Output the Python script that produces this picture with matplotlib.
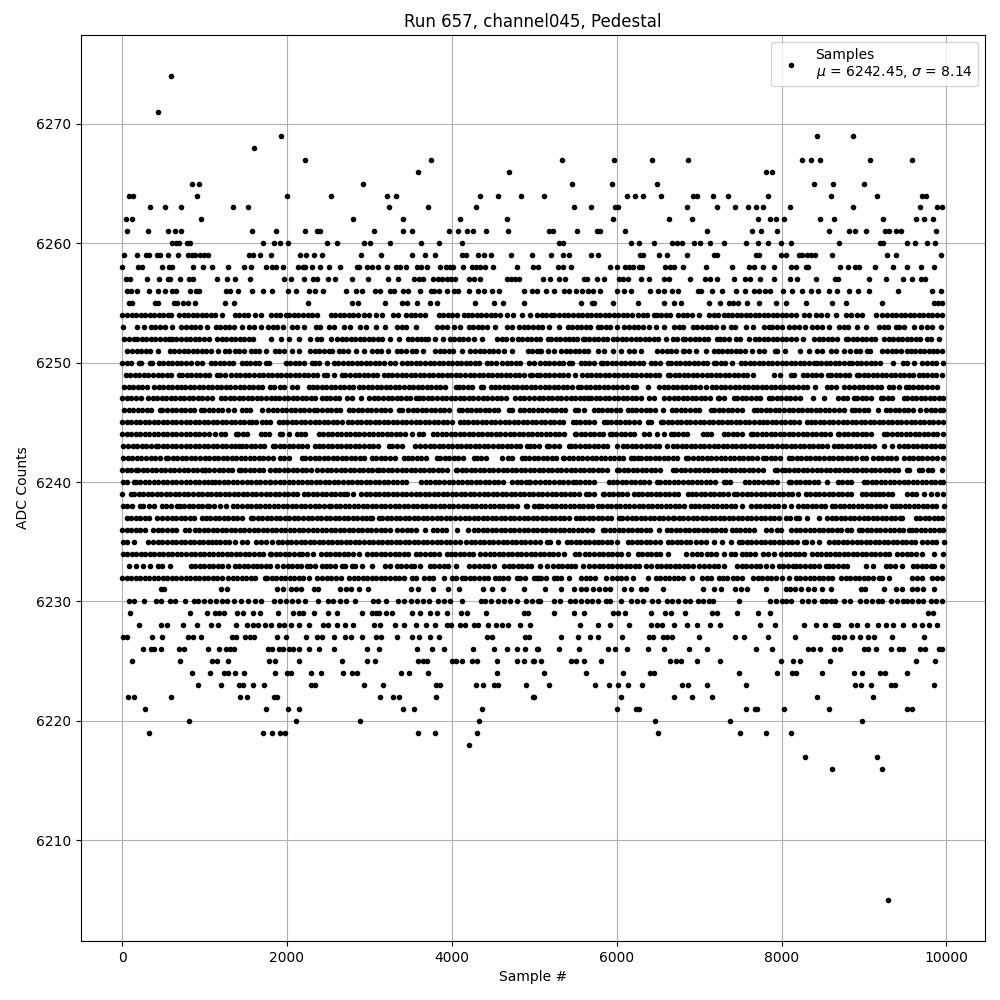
import matplotlib
matplotlib.use("Agg")
import matplotlib.pyplot as plt

# sample numbers, one list per ADC level
s6274 = [594]
s6271 = [436]
s6269 = [1927, 8436, 8872]
s6268 = [1600]
s6267 = [2218, 3745, 5333, 5964, 6424, 6860, 8254, 8363, 8472, 9078, 9588]
s6266 = [3588, 4690, 7806, 7879]
s6265 = [848, 933, 2921, 5455, 5939, 6485, 8388, 8630, 9006]
s6264 = [85, 133, 909, 2000, 2533, 3212, 3321, 4339, 4557, 4836, 5115, 6121, 6218, 6315, 6533, 6921, 6970, 7164, 7345, 7842, 8606, 9163, 9709, 9757]
s6263 = [339, 521, 715, 1345, 1527, 3236, 3709, 4290, 5479, 5685, 5976, 6012, 6848, 7212, 7430, 7588, 7685, 7770, 8097, 8872, 9684, 9891, 9951]
s6262 = [48, 121, 957, 2800, 3406, 4097, 4666, 5952, 6630, 6909, 7709, 7866, 7927, 8024, 8472, 8642, 9236, 9636, 9729, 9842]
s6261 = [65, 315, 558, 642, 715, 1576, 1866, 2218, 2360, 2396, 3054, 3406, 3515, 3963, 4072, 4181, 4254, 4412, 4678, 5184, 5232, 5515, 5758, 5794, 6097, 7091, 7636, 7745, 7951, 8570, 8824, 8897, 9030, 9260, 9309, 9386, 9446, 9878]
s6260 = [606, 654, 691, 788, 824, 1709, 1842, 1915, 2012, 2485, 2606, 2933, 3006, 3248, 3624, 3842, 4121, 5305, 5354, 6170, 6267, 6448, 6667, 6727, 6788, 6933, 7006, 7127, 7297, 7564, 7709, 7830, 7988, 8109, 8703, 9200, 9236, 9527, 9624, 9769, 9866]
s6259 = [24, 186, 291, 327, 428, 461, 558, 679, 800, 848, 885, 945, 994, 1042, 1539, 1588, 1673, 1806, 2157, 2230, 2327, 2424, 2897, 3139, 3515, 3672, 3794, 4129, 4177, 4315, 4387, 4472, 4715, 4970, 5200, 5345, 5418, 5685, 5770, 6279, 6315, 6509, 6606, 6848, 7176, 7212, 7685, 7721, 7988, 8060, 8206, 8254, 8315, 8363, 8412, 8618, 9285, 9394, 9939]
s6258 = [0, 194, 242, 485, 570, 606, 861, 982, 1091, 1285, 1479, 1564, 1745, 1818, 1866, 1951, 2133, 2194, 2218, 2303, 2400, 2509, 2642, 2848, 2873, 2970, 3030, 3103, 3212, 3321, 3370, 3442, 3576, 3624, 3697, 3854, 3927, 3976, 4012, 4133, 4242, 4290, 4339, 4400, 4497, 4788, 4982, 5042, 5285, 5345, 5442, 5915, 6000, 6097, 6145, 6194, 6267, 6303, 6582, 6642, 6691, 6800, 7079, 7394, 7600, 7661, 7770, 7903, 8121, 8170, 8291, 8327, 8715, 8812, 8897, 8945, 9139, 9357, 9527, 9697, 9854]
s6257 = [48, 97, 303, 448, 558, 582, 703, 812, 861, 1151, 1272, 1370, 1551, 1964, 2048, 2206, 2315, 2364, 2497, 2582, 2788, 2982, 3224, 3345, 3539, 3600, 3648, 3769, 3830, 3878, 3939, 3988, 4044, 4206, 4266, 4339, 4666, 4715, 4763, 4812, 5103, 5188, 5297, 5370, 5600, 5636, 5758, 5842, 6024, 6073, 6133, 6291, 6388, 6570, 6630, 6885, 7067, 7127, 7212, 7418, 7552, 7612, 7733, 7903, 8097, 8182, 8424, 8654, 8691, 9066, 9272, 9479, 9588, 9697, 9745]
s6256 = [65, 109, 182, 327, 436, 521, 606, 654, 824, 897, 933, 1260, 1309, 1406, 1576, 1709, 1818, 2012, 2109, 2267, 2339, 2436, 2715, 2836, 2909, 3066, 3127, 3248, 3297, 3406, 3467, 3612, 3745, 3782, 3842, 3939, 4024, 4072, 4206, 4315, 4387, 4484, 4569, 4872, 4969, 5030, 5139, 5236, 5358, 5418, 5503, 5576, 5648, 5709, 5794, 6000, 6085, 6170, 6400, 6497, 6570, 6667, 6739, 6982, 7018, 7152, 7273, 7442, 7552, 7661, 7721, 7794, 7866, 8012, 8133, 8254, 8363, 8448, 8570, 8679, 8824, 8933, 9067, 9418, 9830, 9939]
s6255 = [85, 121, 400, 436, 630, 667, 739, 800, 885, 1248, 1357, 2254, 2788, 2861, 3188, 3394, 3455, 3576, 3733, 3818, 4278, 4508, 4618, 4872, 5564, 5697, 5721, 5952, 6254, 6570, 6691, 6776, 7115, 7248, 7357, 7406, 7467, 7576, 7721, 7939, 8060, 8303, 8618, 8788, 9224, 9854, 9903, 9951]

s6254 = [4, 60, 115, 170, 225, 280, 335, 390, 445, 500, 555, 590, 690, 745, 800, 855, 910, 965, 1020, 1075, 1130, 1215, 1365, 1420, 1475, 1530, 1610, 1680, 1810, 1865, 1920, 1990, 2030, 2085, 2140, 2195, 2250, 2305, 2370, 2530, 2585, 2640, 2695, 2750, 2805, 2860, 2930, 3000, 3075, 3155, 3290, 3345, 3440, 3500, 3555, 3610, 3680, 3840, 3895, 3950, 4005, 4060, 4145, 4195, 4250, 4305, 4360, 4415, 4470, 4525, 4580, 4670, 4740, 4850, 4950, 5035, 5090, 5145, 5200, 5245, 5305, 5360, 5415, 5470, 5525, 5580, 5635, 5690, 5745, 5800, 5855, 5910, 5965, 6020, 6075, 6130, 6185, 6255, 6315, 6370, 6455, 6485, 6540, 6595, 6650, 6740, 6800, 6855, 6910, 7000, 7125, 7180, 7235, 7305, 7345, 7400, 7455, 7510, 7565, 7620, 7675, 7730, 7785, 7840, 7895, 7950, 8005, 8060, 8115, 8175, 8275, 8330, 8415, 8475, 8555, 8665, 8785, 8840, 8920, 8980, 9150, 9225, 9280, 9335, 9390, 9445, 9500, 9555, 9610, 9665, 9720, 9775, 9830, 9885, 9950]
s6253 = [16, 185, 260, 350, 405, 460, 515, 600, 720, 775, 830, 885, 940, 1035, 1135, 1190, 1245, 1300, 1355, 1460, 1540, 1595, 1680, 1770, 1825, 1875, 1950, 2065, 2120, 2205, 2350, 2405, 2510, 2575, 2690, 2760, 2885, 2965, 3075, 3190, 3340, 3395, 3450, 3560, 3820, 3880, 3940, 4025, 4105, 4205, 4260, 4315, 4370, 4425, 4530, 4670, 4730, 4810, 4870, 4930, 4985, 5040, 5095, 5185, 5300, 5405, 5460, 5515, 5570, 5625, 5680, 5770, 5810, 5865, 5920, 6000, 6095, 6150, 6205, 6260, 6315, 6395, 6475, 6580, 6700, 6755, 6810, 6920, 6980, 7035, 7090, 7145, 7200, 7285, 7385, 7440, 7570, 7650, 7790, 7850, 7890, 7945, 8000, 8090, 8150, 8215, 8280, 8375, 8430, 8485, 8580, 8700, 8755, 8810, 8920, 9030, 9185, 9240, 9295, 9385, 9430, 9485, 9610, 9690, 9770, 9825, 9930]
s6252 = [25, 80, 145, 185, 240, 295, 350, 405, 460, 515, 570, 610, 660, 715, 770, 825, 880, 935, 990, 1055, 1155, 1210, 1265, 1320, 1375, 1430, 1485, 1540, 1590, 1810, 1930, 2025, 2145, 2285, 2360, 2415, 2530, 2610, 2665, 2720, 2775, 2830, 2885, 2940, 2995, 3050, 3105, 3155, 3255, 3355, 3465, 3520, 3575, 3630, 3680, 3710, 3800, 3890, 3975, 4030, 4085, 4140, 4195, 4265, 4365, 4550, 4605, 4660, 4730, 4800, 4855, 4910, 4965, 5020, 5070, 5165, 5205, 5260, 5315, 5370, 5425, 5465, 5520, 5590, 5610, 5665, 5720, 5775, 5830, 5885, 5960, 6010, 6065, 6115, 6175, 6230, 6285, 6340, 6395, 6450, 6505, 6600, 6680, 6735, 6800, 6835, 6890, 6945, 7000, 7055, 7110, 7220, 7250, 7305, 7365, 7445, 7500, 7610, 7675, 7730, 7785, 7840, 7895, 7950, 8005, 8060, 8115, 8170, 8255, 8395, 8450, 8505, 8560, 8615, 8670, 8780, 8810, 8865, 8920, 8975, 9030, 9085, 9140, 9245, 9300, 9355, 9410, 9465, 9520, 9575, 9630, 9685, 9770, 9810, 9910]
s6251 = [65, 120, 175, 230, 285, 340, 430, 580, 635, 690, 745, 800, 855, 910, 965, 1020, 1075, 1165, 1245, 1300, 1375, 1420, 1475, 1560, 1610, 1665, 1745, 1850, 1905, 1960, 2065, 2145, 2280, 2335, 2390, 2445, 2510, 2550, 2630, 2685, 2740, 2835, 2940, 3035, 3090, 3145, 3225, 3330, 3385, 3440, 3520, 3570, 3650, 3800, 3855, 3910, 3965, 4020, 4125, 4215, 4285, 4340, 4395, 4450, 4505, 4560, 4630, 4725, 4920, 4975, 5075, 5030, 5085, 5165, 5245, 5325, 5380, 5435, 5490, 5545, 5600, 5655, 5770, 5850, 5960, 6050, 6155, 6210, 6295, 6495, 6550, 6605, 6660, 6715, 6800, 6820, 6875, 6960, 7085, 7185, 7225, 7280, 7335, 7390, 7445, 7500, 7555, 7640, 7730, 7785, 7925, 7950, 8045, 8220, 8335, 8435, 8495, 8600, 8665, 8760, 8830, 8900, 8955, 9040, 9070, 9225, 9280, 9335, 9390, 9445, 9525, 9565, 9620, 9675, 9730, 9785, 9840, 9890, 9950]
s6250 = [0, 55, 110, 205, 235, 340, 365, 450, 500, 555, 610, 665, 720, 775, 830, 905, 975, 1075, 1130, 1185, 1240, 1295, 1350, 1460, 1500, 1555, 1610, 1665, 1740, 1780, 1985, 2040, 2095, 2150, 2205, 2305, 2335, 2390, 2490, 2570, 2625, 2680, 2735, 2790, 2845, 2900, 2955, 3010, 3065, 3120, 3175, 3255, 3310, 3400, 3455, 3510, 3565, 3620, 3675, 3730, 3785, 3840, 3895, 3950, 4005, 4060, 4115, 4170, 4225, 4280, 4335, 4430, 4470, 4540, 4610, 4665, 4720, 4775, 4830, 4935, 4995, 5075, 5130, 5185, 5240, 5295, 5350, 5425, 5460, 5570, 5610, 5665, 5720, 5810, 5830, 5885, 5940, 5995, 6050, 6105, 6160, 6215, 6270, 6325, 6415, 6470, 6525, 6620, 6660, 6715, 6770, 6825, 6880, 6935, 6990, 7045, 7100, 7185, 7205, 7260, 7315, 7405, 7505, 7560, 7615, 7670, 7725, 7780, 7835, 7890, 7945, 8000, 8055, 8110, 8165, 8220, 8275, 8330, 8395, 8425, 8480, 8535, 8590, 8650, 8700, 8755, 8820, 8860, 8915, 8970, 9025, 9080, 9135, 9190, 9350, 9475, 9525, 9610, 9710, 9770, 9825, 9880, 9960]
s6249 = [45, 100, 155, 210, 265, 320, 375, 430, 485, 540, 595, 690, 730, 785, 840, 895, 950, 1005, 1060, 1155, 1190, 1245, 1325, 1380, 1435, 1490, 1545, 1600, 1655, 1710, 1765, 1820, 1875, 1930, 1985, 2040, 2095, 2150, 2205, 2260, 2315, 2370, 2450, 2480, 2565, 2670, 2710, 2765, 2820, 2875, 2930, 2985, 3040, 3095, 3175, 3225, 3280, 3335, 3390, 3445, 3500, 3555, 3610, 3665, 3720, 3775, 3830, 3885, 3940, 3995, 4050, 4105, 4160, 4215, 4270, 4325, 4380, 4435, 4490, 4545, 4600, 4655, 4710, 4765, 4820, 4875, 4950, 4970, 5035, 5075, 5130, 5185, 5240, 5295, 5350, 5405, 5500, 5580, 5635, 5690, 5745, 5800, 5855, 5910, 5965, 6020, 6075, 6130, 6185, 6240, 6295, 6350, 6405, 6460, 6515, 6620, 6650, 6705, 6760, 6815, 6870, 6925, 6980, 7035, 7090, 7145, 7200, 7255, 7310, 7365, 7420, 7475, 7530, 7585, 7650, 7910, 7985, 8115, 8150, 8255, 8310, 8365, 8420, 8475, 8560, 8600, 8655, 8710, 8765, 8820, 8920, 8940, 8995, 9050, 9105, 9160, 9215, 9270, 9325, 9380, 9435, 9490, 9545, 9600, 9670, 9715, 9770, 9825, 9880, 9950]
s6248 = [25, 80, 135, 190, 245, 300, 385, 445, 500, 555, 610, 670, 710, 765, 820, 875, 930, 985, 1040, 1095, 1150, 1205, 1260, 1315, 1370, 1425, 1480, 1535, 1590, 1645, 1700, 1800, 1840, 1915, 1965, 2065, 2120, 2265, 2310, 2365, 2420, 2475, 2530, 2585, 2640, 2695, 2750, 2805, 2870, 2925, 2980, 3035, 3090, 3145, 3200, 3255, 3310, 3365, 3420, 3475, 3530, 3585, 3640, 3695, 3750, 3805, 3860, 3915, 4045, 4085, 4140, 4195, 4250, 4350, 4380, 4470, 4520, 4575, 4630, 4685, 4740, 4795, 4850, 4905, 4960, 5015, 5070, 5125, 5180, 5235, 5290, 5345, 5400, 5455, 5530, 5570, 5625, 5680, 5735, 5790, 5845, 5900, 5955, 6010, 6065, 6120, 6195, 6235, 6375, 6515, 6570, 6625, 6680, 6735, 6790, 6845, 6900, 6955, 7010, 7085, 7155, 7210, 7265, 7320, 7375, 7430, 7485, 7540, 7595, 7650, 7705, 7760, 7815, 7870, 7925, 7980, 8035, 8090, 8145, 8200, 8255, 8315, 8410, 8555, 8600, 8655, 8760, 8820, 8880, 8935, 8990, 9045, 9100, 9155, 9210, 9305, 9355, 9425, 9505, 9545, 9600, 9655, 9710, 9765, 9820, 9890]
s6247 = [0, 55, 110, 165, 225, 315, 370, 425, 480, 535, 590, 645, 700, 755, 810, 865, 920, 975, 1030, 1085, 1195, 1250, 1305, 1360, 1415, 1470, 1525, 1580, 1635, 1690, 1745, 1810, 1850, 1905, 1960, 2015, 2070, 2125, 2180, 2235, 2290, 2345, 2430, 2470, 2525, 2580, 2635, 2730, 2785, 2895, 3000, 3055, 3110, 3165, 3220, 3275, 3330, 3385, 3440, 3495, 3570, 3600, 3655, 3710, 3765, 3820, 3875, 3930, 3985, 4040, 4095, 4150, 4205, 4260, 4315, 4380, 4430, 4490, 4545, 4600, 4655, 4770, 4825, 4880, 4935, 5000, 5055, 5110, 5165, 5220, 5275, 5330, 5385, 5440, 5495, 5550, 5605, 5650, 5690, 5745, 5800, 5855, 5910, 5965, 6020, 6075, 6130, 6185, 6240, 6295, 6395, 6455, 6580, 6635, 6690, 6745, 6800, 6855, 6910, 6965, 7020, 7075, 7130, 7225, 7245, 7300, 7425, 7465, 7520, 7575, 7630, 7685, 7740, 7850, 7885, 7940, 7995, 8050, 8105, 8160, 8220, 8385, 8515, 8690, 8745, 8800, 8880, 8920, 8975, 9030, 9085, 9205, 9235, 9290, 9345, 9485, 9525, 9580, 9635, 9690, 9745, 9800, 9855, 9910, 9960]
s6246 = [25, 80, 135, 190, 245, 300, 355, 460, 490, 545, 600, 655, 710, 765, 820, 875, 955, 995, 1050, 1105, 1160, 1215, 1285, 1360, 1460, 1500, 1555, 1700, 1770, 1825, 1880, 1935, 1990, 2045, 2100, 2155, 2210, 2265, 2330, 2370, 2425, 2480, 2535, 2590, 2645, 2750, 2805, 2860, 2915, 2970, 3025, 3080, 3135, 3190, 3245, 3355, 3400, 3470, 3525, 3580, 3635, 3690, 3745, 3800, 3855, 3910, 3965, 4085, 4125, 4180, 4235, 4290, 4345, 4400, 4455, 4510, 4565, 4690, 4730, 4825, 4880, 4935, 4990, 5045, 5100, 5155, 5210, 5265, 5320, 5375, 5490, 5530, 5600, 5730, 5770, 5825, 5880, 5935, 5990, 6045, 6135, 6185, 6240, 6295, 6350, 6405, 6460, 6560, 6670, 6725, 6780, 6835, 6890, 6945, 7000, 7145, 7185, 7240, 7295, 7350, 7405, 7460, 7515, 7670, 7700, 7755, 7810, 7865, 7920, 7975, 8030, 8085, 8140, 8195, 8250, 8305, 8360, 8415, 8470, 8525, 8580, 8635, 8700, 8760, 8850, 8890, 8945, 9000, 9055, 9165, 9265, 9320, 9375, 9430, 9485, 9540, 9595, 9680, 9755, 9810, 9865, 9920, 9960]
s6245 = [0, 55, 110, 165, 220, 275, 330, 385, 440, 495, 550, 605, 660, 715, 770, 825, 880, 935, 990, 1045, 1100, 1155, 1210, 1265, 1320, 1375, 1430, 1485, 1540, 1570, 1625, 1700, 1740, 1795, 1900, 1950, 2005, 2060, 2115, 2170, 2225, 2280, 2335, 2390, 2445, 2500, 2555, 2610, 2665, 2740, 2790, 2845, 2900, 2955, 3010, 3065, 3120, 3175, 3230, 3285, 3340, 3395, 3450, 3505, 3560, 3615, 3670, 3725, 3780, 3835, 3890, 3945, 4000, 4105, 4145, 4200, 4255, 4310, 4365, 4420, 4475, 4530, 4585, 4640, 4695, 4750, 4805, 4860, 4915, 4970, 5025, 5080, 5135, 5190, 5245, 5300, 5355, 5470, 5505, 5560, 5615, 5670, 5725, 5850, 5880, 5935, 5990, 6045, 6100, 6155, 6210, 6265, 6375, 6415, 6535, 6565, 6620, 6675, 6730, 6785, 6840, 6895, 6950, 7005, 7060, 7115, 7170, 7225, 7280, 7335, 7390, 7445, 7500, 7555, 7610, 7665, 7730, 7770, 7825, 7880, 7935, 7990, 8045, 8100, 8155, 8210, 8315, 8355, 8410, 8465, 8520, 8575, 8630, 8685, 8740, 8795, 8850, 8905, 8960, 9015, 9070, 9125, 9180, 9235, 9290, 9345, 9400, 9455, 9510, 9565, 9620, 9675, 9730, 9785, 9840, 9895, 9960]
s6244 = [0, 55, 110, 165, 220, 275, 330, 385, 440, 495, 550, 605, 660, 715, 770, 825, 880, 935, 990, 1055, 1125, 1195, 1250, 1380, 1410, 1465, 1520, 1690, 1730, 1785, 1910, 1945, 2025, 2125, 2165, 2220, 2385, 2440, 2495, 2550, 2605, 2660, 2715, 2770, 2825, 2880, 2935, 2990, 3045, 3100, 3155, 3210, 3265, 3320, 3375, 3430, 3520, 3600, 3655, 3775, 3820, 3875, 3930, 3985, 4040, 4095, 4150, 4205, 4260, 4315, 4370, 4425, 4480, 4535, 4590, 4645, 4700, 4755, 4810, 4865, 4920, 4975, 5030, 5085, 5140, 5195, 5250, 5305, 5360, 5490, 5510, 5565, 5620, 5675, 5730, 5785, 5840, 5925, 5940, 5995, 6050, 6105, 6160, 6215, 6335, 6395, 6485, 6575, 6660, 6690, 6745, 6800, 6855, 7045, 7090, 7145, 7305, 7355, 7410, 7465, 7520, 7630, 7650, 7705, 7760, 7815, 7870, 7925, 7980, 8035, 8090, 8145, 8200, 8255, 8310, 8365, 8420, 8475, 8530, 8585, 8680, 8700, 8755, 8810, 8865, 8920, 8975, 9030, 9085, 9245, 9285, 9340, 9395, 9450, 9505, 9560, 9615, 9670, 9725, 9780, 9835, 9890, 9960]
s6243 = [15, 75, 130, 185, 240, 295, 350, 410, 440, 495, 550, 605, 660, 715, 770, 825, 880, 935, 990, 1045, 1100, 1155, 1210, 1265, 1320, 1375, 1420, 1450, 1505, 1560, 1615, 1670, 1725, 1830, 1855, 1910, 1965, 2020, 2075, 2130, 2185, 2240, 2345, 2385, 2440, 2495, 2550, 2605, 2660, 2715, 2770, 2825, 2880, 2935, 2990, 3045, 3100, 3235, 3280, 3335, 3390, 3555, 3620, 3675, 3730, 3785, 3840, 3895, 3950, 4005, 4060, 4115, 4170, 4225, 4280, 4335, 4390, 4445, 4500, 4555, 4610, 4665, 4720, 4775, 4830, 4910, 4945, 5000, 5055, 5150, 5185, 5240, 5295, 5420, 5445, 5500, 5555, 5610, 5665, 5720, 5775, 5830, 5885, 6000, 6075, 6130, 6185, 6240, 6295, 6350, 6405, 6460, 6515, 6610, 6680, 6735, 6790, 6845, 6900, 6955, 7010, 7065, 7120, 7175, 7230, 7285, 7340, 7395, 7450, 7505, 7560, 7615, 7670, 7725, 7780, 7835, 7890, 7945, 8000, 8055, 8110, 8165, 8220, 8275, 8330, 8385, 8440, 8495, 8550, 8640, 8680, 8735, 8790, 8845, 8900, 8955, 9010, 9065, 9120, 9245, 9345, 9425, 9480, 9535, 9590, 9645, 9700, 9755, 9810, 9865, 9920, 9960]
s6242 = [15, 70, 125, 180, 235, 290, 345, 400, 455, 530, 560, 615, 670, 725, 780, 835, 890, 945, 1000, 1055, 1110, 1165, 1220, 1275, 1330, 1385, 1440, 1495, 1550, 1605, 1660, 1715, 1770, 1825, 1920, 1965, 2020, 2185, 2225, 2280, 2335, 2390, 2445, 2500, 2555, 2610, 2665, 2720, 2775, 2830, 2885, 2940, 3035, 3085, 3140, 3195, 3250, 3305, 3425, 3465, 3520, 3575, 3630, 3685, 3820, 3860, 3915, 3970, 4025, 4080, 4135, 4265, 4305, 4360, 4415, 4610, 4680, 4735, 4850, 4885, 4940, 4995, 5050, 5105, 5160, 5215, 5270, 5345, 5365, 5420, 5475, 5530, 5585, 5640, 5695, 5750, 5805, 5860, 5915, 5970, 6025, 6080, 6175, 6215, 6255, 6295, 6350, 6405, 6460, 6515, 6570, 6625, 6680, 6735, 6840, 6870, 6930, 6985, 7040, 7095, 7150, 7205, 7260, 7315, 7370, 7425, 7480, 7535, 7590, 7645, 7700, 7770, 7810, 7870, 7925, 7980, 8090, 8130, 8185, 8240, 8295, 8350, 8405, 8460, 8515, 8570, 8625, 8680, 8735, 8790, 8845, 8900, 8980, 9030, 9110, 9165, 9220, 9275, 9330, 9385, 9485, 9545, 9600, 9655, 9710, 9765, 9830, 9890, 9960]
s6241 = [0, 55, 110, 165, 195, 250, 305, 360, 415, 470, 525, 580, 635, 690, 745, 800, 855, 910, 965, 1000, 1005, 1060, 1115, 1170, 1225, 1280, 1335, 1420, 1440, 1495, 1550, 1605, 1660, 1715, 1800, 1850, 1905, 1960, 2015, 2070, 2125, 2180, 2235, 2290, 2370, 2430, 2485, 2540, 2595, 2650, 2705, 2760, 2815, 2870, 2925, 2980, 3035, 3095, 3115, 3170, 3225, 3280, 3335, 3390, 3445, 3500, 3555, 3610, 3665, 3720, 3775, 3830, 3885, 3940, 4045, 4065, 4120, 4175, 4230, 4285, 4340, 4395, 4450, 4505, 4560, 4615, 4670, 4725, 4780, 4835, 4890, 4945, 5000, 5055, 5110, 5165, 5220, 5275, 5330, 5385, 5440, 5495, 5550, 5605, 5660, 5715, 5770, 5825, 5880, 6010, 6030, 6085, 6140, 6195, 6250, 6305, 6360, 6415, 6470, 6525, 6685, 6725, 6780, 6835, 6890, 6945, 7000, 7055, 7110, 7165, 7220, 7275, 7330, 7385, 7440, 7495, 7550, 7605, 7660, 7715, 7770, 7925, 7950, 8010, 8040, 8095, 8150, 8205, 8260, 8315, 8370, 8425, 8480, 8535, 8590, 8645, 8700, 8755, 8810, 8865, 8920, 8975, 9030, 9085, 9140, 9195, 9250, 9305, 9360, 9415, 9525, 9545, 9670, 9700, 9780, 9820, 9950]
s6240 = [5, 60, 140, 165, 220, 275, 330, 385, 440, 495, 550, 605, 660, 715, 770, 825, 880, 935, 990, 1045, 1095, 1125, 1180, 1235, 1290, 1345, 1400, 1455, 1510, 1565, 1620, 1675, 1730, 1795, 1800, 1855, 1910, 1965, 2020, 2075, 2130, 2185, 2240, 2295, 2350, 2405, 2460, 2515, 2570, 2625, 2680, 2735, 2790, 2845, 2900, 2955, 3010, 3065, 3120, 3175, 3230, 3285, 3340, 3400, 3440, 3630, 3685, 3740, 3795, 3850, 3905, 3960, 4015, 4070, 4125, 4180, 4235, 4290, 4345, 4400, 4455, 4510, 4565, 4620, 4730, 4790, 4845, 4900, 4935, 4950, 5005, 5075, 5130, 5185, 5240, 5295, 5350, 5405, 5465, 5505, 5560, 5615, 5670, 5725, 5910, 5950, 6005, 6060, 6115, 6170, 6225, 6280, 6335, 6390, 6490, 6530, 6585, 6640, 6695, 6750, 6805, 6860, 6915, 6970, 7025, 7080, 7135, 7190, 7305, 7325, 7380, 7560, 7610, 7665, 7720, 7775, 7830, 7885, 7940, 8090, 8115, 8170, 8225, 8280, 8335, 8390, 8445, 8555, 8680, 8735, 8790, 8845, 9000, 9040, 9095, 9150, 9205, 9260, 9315, 9370, 9425, 9480, 9535, 9590, 9645, 9700, 9755, 9810, 9865, 9920, 9960]
s6239 = [0, 105, 145, 200, 255, 310, 365, 420, 475, 530, 585, 640, 695, 750, 805, 860, 915, 970, 1025, 1080, 1135, 1190, 1245, 1300, 1355, 1410, 1465, 1520, 1575, 1630, 1685, 1740, 1795, 1850, 1905, 1960, 2015, 2070, 2125, 2205, 2255, 2310, 2365, 2420, 2475, 2530, 2585, 2640, 2690, 2725, 2805, 2895, 2955, 3010, 3065, 3120, 3175, 3230, 3285, 3340, 3395, 3450, 3505, 3560, 3615, 3670, 3725, 3780, 3835, 3890, 3945, 4000, 4055, 4110, 4165, 4220, 4275, 4330, 4385, 4440, 4495, 4550, 4605, 4660, 4715, 4770, 4825, 4880, 4935, 4990, 5045, 5100, 5155, 5210, 5265, 5320, 5375, 5430, 5485, 5540, 5630, 5670, 5725, 5830, 5850, 5905, 5960, 6015, 6070, 6125, 6215, 6255, 6310, 6365, 6420, 6475, 6530, 6585, 6640, 6695, 6750, 6860, 6915, 6965, 7020, 7075, 7130, 7185, 7240, 7295, 7350, 7425, 7465, 7525, 7580, 7635, 7690, 7745, 7800, 7855, 7910, 7965, 8020, 8075, 8130, 8195, 8295, 8350, 8405, 8460, 8515, 8570, 8625, 8680, 8735, 8790, 8845, 8980, 9030, 9085, 9140, 9180, 9235, 9290, 9345, 9525, 9580, 9635, 9730, 9810, 9890, 9960]
s6238 = [5, 60, 115, 220, 250, 330, 390, 480, 535, 590, 670, 700, 755, 810, 865, 920, 975, 1030, 1055, 1110, 1190, 1255, 1340, 1400, 1455, 1510, 1565, 1620, 1675, 1730, 1785, 1840, 1895, 1950, 2005, 2060, 2115, 2170, 2225, 2280, 2335, 2390, 2445, 2510, 2535, 2590, 2645, 2700, 2755, 2810, 2865, 2920, 2975, 3030, 3085, 3140, 3195, 3250, 3305, 3360, 3415, 3470, 3525, 3580, 3635, 3690, 3745, 3800, 3855, 3910, 3965, 4020, 4075, 4130, 4185, 4240, 4295, 4350, 4405, 4460, 4515, 4570, 4625, 4680, 4735, 4790, 4895, 4910, 5000, 5055, 5045, 5100, 5155, 5210, 5265, 5320, 5375, 5430, 5485, 5540, 5595, 5650, 5705, 5770, 5825, 5880, 5935, 5990, 6045, 6100, 6155, 6210, 6265, 6320, 6375, 6430, 6485, 6540, 6595, 6650, 6705, 6760, 6815, 6900, 6945, 7000, 7055, 7110, 7165, 7220, 7275, 7330, 7385, 7440, 7525, 7630, 7685, 7740, 7795, 7850, 7905, 7960, 8035, 8115, 8195, 8255, 8310, 8365, 8420, 8475, 8530, 8610, 8650, 8705, 8760, 8815, 8870, 8925, 8980, 9035, 9090, 9145, 9200, 9255, 9335, 9385, 9440, 9495, 9550, 9605, 9660, 9715, 9770, 9825, 9880, 9970]
s6237 = [55, 110, 165, 220, 275, 330, 420, 490, 545, 600, 655, 710, 765, 820, 875, 975, 1015, 1070, 1125, 1180, 1235, 1290, 1345, 1400, 1455, 1560, 1590, 1645, 1700, 1755, 1810, 1865, 1920, 1975, 2030, 2085, 2140, 2195, 2250, 2305, 2360, 2415, 2470, 2525, 2580, 2635, 2690, 2745, 2800, 2855, 2910, 2965, 3005, 3035, 3115, 3155, 3210, 3265, 3320, 3375, 3430, 3485, 3540, 3595, 3650, 3705, 3760, 3815, 3870, 3925, 3980, 4035, 4105, 4155, 4210, 4265, 4320, 4375, 4430, 4485, 4540, 4595, 4650, 4705, 4760, 4815, 4870, 4925, 4980, 5035, 5090, 5145, 5200, 5255, 5310, 5365, 5420, 5510, 5550, 5605, 5660, 5715, 5770, 5825, 5880, 5935, 6030, 6070, 6125, 6180, 6235, 6290, 6345, 6400, 6455, 6510, 6565, 6620, 6680, 6700, 6755, 6810, 6865, 6920, 6975, 7030, 7085, 7140, 7195, 7250, 7305, 7360, 7415, 7470, 7525, 7580, 7635, 7690, 7745, 7800, 7855, 7910, 7965, 8060, 8100, 8175, 8215, 8315, 8455, 8555, 8610, 8665, 8720, 8775, 8830, 8885, 8940, 8995, 9050, 9105, 9160, 9215, 9270, 9325, 9380, 9435, 9465, 9630, 9680, 9735, 9790, 9845, 9900, 9950]
s6236 = [0, 55, 110, 165, 220, 275, 380, 435, 490, 545, 600, 655, 760, 810, 880, 935, 990, 1045, 1100, 1155, 1210, 1265, 1320, 1375, 1430, 1485, 1540, 1595, 1650, 1705, 1760, 1815, 1870, 1925, 1980, 2035, 2090, 2145, 2200, 2255, 2310, 2365, 2420, 2475, 2530, 2585, 2640, 2690, 2750, 2805, 2860, 2915, 2970, 3025, 3080, 3135, 3190, 3245, 3340, 3400, 3455, 3510, 3565, 3680, 3770, 3825, 3880, 3935, 4065, 4195, 4265, 4320, 4375, 4430, 4485, 4540, 4595, 4650, 4705, 4760, 4815, 4870, 4925, 4980, 5035, 5090, 5145, 5200, 5255, 5310, 5365, 5420, 5475, 5530, 5585, 5640, 5695, 5830, 5860, 5915, 5970, 6025, 6080, 6135, 6190, 6245, 6300, 6355, 6410, 6510, 6605, 6660, 6715, 6770, 6825, 6880, 6935, 6990, 7045, 7100, 7155, 7210, 7265, 7320, 7400, 7445, 7500, 7555, 7610, 7665, 7810, 7870, 7950, 7990, 8115, 8175, 8230, 8285, 8340, 8395, 8450, 8505, 8560, 8615, 8670, 8725, 8800, 8840, 8935, 8980, 9035, 9090, 9145, 9200, 9255, 9310, 9365, 9420, 9475, 9545, 9580, 9635, 9690, 9745, 9800, 9855, 9910, 9960]
s6235 = [5, 60, 140, 315, 380, 435, 490, 545, 600, 655, 710, 765, 820, 875, 930, 985, 1040, 1095, 1135, 1190, 1245, 1300, 1375, 1460, 1510, 1630, 1685, 1740, 1820, 1890, 1945, 2000, 2055, 2110, 2165, 2220, 2275, 2330, 2385, 2440, 2495, 2550, 2605, 2660, 2715, 2770, 2825, 2880, 2935, 2990, 3045, 3100, 3155, 3210, 3265, 3320, 3375, 3430, 3485, 3540, 3595, 3650, 3705, 3760, 3815, 3870, 3925, 3980, 4035, 4105, 4175, 4230, 4285, 4340, 4395, 4450, 4505, 4560, 4615, 4670, 4725, 4780, 4835, 4890, 4945, 5010, 5075, 5150, 5190, 5285, 5395, 5450, 5505, 5560, 5615, 5670, 5730, 5770, 5825, 5880, 5935, 6010, 6135, 6190, 6245, 6300, 6355, 6410, 6465, 6525, 6620, 6675, 6730, 6785, 6840, 6895, 6960, 7025, 7080, 7185, 7275, 7385, 7480, 7525, 7580, 7635, 7690, 7745, 7800, 7855, 7910, 7965, 8020, 8075, 8130, 8185, 8275, 8295, 8375, 8450, 8580, 8635, 8690, 8745, 8800, 8855, 8910, 8965, 9020, 9075, 9130, 9185, 9240, 9295, 9350, 9405, 9460, 9515, 9570, 9625, 9710, 9770, 9825, 9880, 9970]
s6234 = [5, 60, 115, 170, 225, 280, 335, 390, 445, 500, 555, 610, 665, 720, 775, 830, 885, 940, 995, 1050, 1105, 1160, 1215, 1270, 1325, 1380, 1435, 1490, 1545, 1600, 1655, 1710, 1800, 1810, 1865, 1920, 1975, 2030, 2085, 2145, 2185, 2240, 2310, 2415, 2470, 2525, 2580, 2635, 2690, 2745, 2800, 2870, 2975, 3030, 3085, 3140, 3195, 3250, 3305, 3360, 3415, 3470, 3560, 3620, 3675, 3730, 3785, 3840, 3945, 3985, 4040, 4095, 4150, 4205, 4260, 4345, 4405, 4460, 4515, 4570, 4625, 4680, 4735, 4790, 4845, 4900, 4955, 5010, 5065, 5120, 5175, 5230, 5285, 5365, 5490, 5545, 5610, 5670, 5725, 5780, 5835, 5890, 5945, 6000, 6055, 6135, 6255, 6310, 6365, 6420, 6475, 6530, 6620, 6840, 6915, 6970, 7025, 7100, 7145, 7200, 7305, 7385, 7440, 7525, 7565, 7620, 7675, 7770, 7830, 7910, 7990, 8050, 8105, 8160, 8215, 8275, 8370, 8425, 8480, 8535, 8590, 8645, 8700, 8755, 8810, 8865, 8920, 8975, 9030, 9085, 9140, 9195, 9250, 9305, 9405, 9465, 9520, 9575, 9630, 9710, 9850, 9960]
s6233 = [85, 165, 250, 340, 430, 490, 580, 830, 885, 940, 995, 1050, 1105, 1160, 1215, 1285, 1365, 1420, 1475, 1530, 1585, 1640, 1690, 1745, 1800, 1885, 1955, 2010, 2065, 2120, 2175, 2245, 2285, 2340, 2430, 2470, 2525, 2580, 2670, 2710, 2790, 2825, 2910, 3035, 3195, 3250, 3340, 3385, 3440, 3500, 3540, 3620, 3735, 3790, 3845, 3900, 3955, 4045, 4205, 4275, 4330, 4385, 4440, 4510, 4635, 4690, 4745, 4800, 4855, 4910, 4965, 5065, 5150, 5230, 5285, 5340, 5395, 5445, 5500, 5590, 5670, 5725, 5780, 5835, 5890, 5945, 6000, 6055, 6110, 6165, 6220, 6275, 6355, 6415, 6485, 6540, 6595, 6650, 6705, 6760, 6815, 6870, 6925, 7000, 7065, 7120, 7175, 7230, 7305, 7465, 7520, 7575, 7630, 7685, 7740, 7810, 7890, 7965, 8020, 8075, 8135, 8175, 8230, 8285, 8340, 8395, 8450, 8535, 8575, 8630, 8685, 8740, 8800, 9020, 9110, 9265, 9320, 9375, 9465, 9590, 9645, 9700, 9755, 9810, 9850, 9950]
s6232 = [0, 55, 110, 165, 220, 275, 330, 385, 440, 495, 550, 605, 660, 715, 770, 825, 880, 935, 990, 1045, 1100, 1155, 1215, 1285, 1340, 1395, 1450, 1505, 1560, 1615, 1730, 1760, 1815, 1870, 1925, 1980, 2035, 2090, 2145, 2200, 2265, 2370, 2430, 2485, 2540, 2595, 2650, 2750, 2810, 2865, 2920, 2975, 3030, 3085, 3140, 3195, 3250, 3305, 3360, 3415, 3520, 3570, 3660, 3720, 3775, 3900, 4000, 4055, 4125, 4165, 4220, 4275, 4330, 4385, 4440, 4525, 4570, 4625, 4680, 4790, 4830, 4885, 4995, 5055, 5030, 5085, 5140, 5245, 5275, 5330, 5425, 5570, 5625, 5680, 5735, 5870, 5945, 6000, 6055, 6110, 6195, 6375, 6475, 6530, 6585, 6640, 6695, 6750, 6805, 6915, 7035, 7090, 7145, 7245, 7285, 7340, 7415, 7465, 7525, 7655, 7710, 7765, 7820, 7875, 7930, 8010, 8095, 8175, 8230, 8285, 8340, 8395, 8450, 8505, 8560, 8615, 8720, 8780, 8835, 8890, 8945, 9000, 9055, 9110, 9185, 9225, 9305, 9580, 9645, 9710, 9830, 9885, 9950]

s6231 = [469, 509, 1200, 1272, 1883, 1951, 2048, 2109, 2170, 2327, 2376, 2642, 2715, 2776, 2873, 2982, 3503, 3588, 3770, 3951, 4084, 4375, 4488, 4618, 4872, 5127, 5321, 5479, 5564, 5624, 5709, 5782, 5855, 5915, 6085, 6170, 6291, 6352, 6557, 7042, 7176, 7260, 7430, 7503, 7576, 7806, 8060, 8097, 8158, 8242, 8327, 8388, 8497, 8606, 8970, 9018, 9248, 9394, 9467, 9588, 9648, 9721, 9854]
s6230 = [85, 145, 267, 412, 473, 582, 642, 764, 873, 921, 994, 1067, 1139, 1212, 1273, 1358, 1442, 1527, 1612, 1685, 1842, 1915, 1988, 2061, 2133, 2218, 2376, 2497, 2557, 2642, 2715, 2824, 3042, 3103, 3200, 3345, 3418, 3503, 3576, 3648, 3721, 3830, 3903, 3976, 4121, 4351, 4400, 4472, 4557, 4630, 4703, 4788, 4897, 4969, 5042, 5067, 5236, 5309, 5430, 5491, 5564, 5636, 5697, 5770, 5867, 5915, 6048, 6170, 6242, 6315, 6424, 6497, 6606, 6667, 6739, 6824, 6885, 6982, 7042, 7115, 7164, 7479, 7866, 7939, 8000, 8060, 8121, 8254, 8327, 8400, 8485, 8545, 8606, 8654, 8752, 8836, 8957, 9030, 9103, 9176, 9224, 9333, 9406, 9479, 9527, 9588, 9661, 9721, 9818, 9878, 9951]
s6229 = [97, 824, 1030, 1127, 1176, 1236, 1394, 1467, 1588, 1673, 1891, 2073, 2145, 2194, 2327, 2497, 2606, 2909, 3030, 3079, 3115, 3200, 3272, 3515, 3612, 3733, 3818, 3939, 4109, 4181, 4412, 4872, 4921, 5236, 5479, 5600, 5952, 6012, 6097, 6412, 6582, 6655, 6824, 7152, 7212, 7454, 7709, 7866, 9782, 9842]
s6228 = [206, 473, 545, 739, 909, 1079, 1164, 1382, 1515, 1588, 1648, 1733, 1806, 1903, 1964, 2048, 2145, 2267, 2436, 2497, 2606, 2703, 2800, 3054, 3127, 3309, 3418, 3564, 3685, 3794, 3939, 3988, 4097, 4157, 4266, 4315, 4436, 4533, 4606, 4678, 4824, 4945, 5552, 5770, 5915, 6145, 6412, 6485, 6545, 6691, 6848, 6970, 7127, 7248, 7733, 7915, 8267, 8424, 8533, 8654, 8691, 8848, 8921, 9042, 9176, 9272, 9358, 9479, 9612, 9709, 9794, 9891]
s6227 = [12, 60, 364, 485, 800, 861, 957, 1333, 1382, 1491, 1551, 1600, 1879, 1988, 2230, 2364, 2424, 2570, 2703, 2776, 2909, 3079, 3139, 3333, 3515, 3600, 3733, 3842, 4424, 4484, 4885, 4933, 5321, 5527, 5673, 5770, 6061, 6388, 6436, 6557, 6606, 6667, 6994, 7430, 7539, 7830, 8158, 8642, 8691, 8752, 8861, 8958, 9054, 9127, 9345, 9733]
s6226 = [255, 352, 388, 473, 691, 751, 1042, 1176, 1261, 1309, 1358, 1770, 1818, 1903, 1951, 2024, 2073, 2145, 2267, 2388, 2570, 2970, 3115, 3576, 3757, 3903, 4254, 4509, 4666, 4788, 4885, 5042, 5030, 5297, 5539, 5891, 5976, 6121, 6376, 6570, 6873, 7091, 7685, 7879, 8327, 8376, 8472, 8642, 8715, 9006, 9054, 9151, 9333, 9430, 9479, 9685, 9745, 9915, 9951]
s6225 = [121, 703, 1091, 1151, 1285, 1782, 1854, 2145, 2667, 2970, 3066, 3588, 3648, 3697, 4000, 4048, 4121, 4242, 4303, 4545, 4788, 4872, 4994, 4982, 5079, 5442, 5503, 5600, 5806, 6642, 6715, 6776, 6970, 7248, 7988, 8145, 8230, 8594, 9636, 9866]
s6224 = [848, 1067, 1236, 1285, 1370, 1479, 1854, 2000, 2048, 2291, 2412, 2679, 2788, 2848, 3382, 3479, 3709, 4549, 5115, 5624, 6073, 6400, 6448, 7479, 7951, 8133, 8170, 8497, 8885, 8982, 9200, 9260, 9527]
s6223 = [921, 1200, 1418, 1467, 1588, 1721, 2291, 2339, 2933, 3164, 3806, 3854, 4290, 4375, 4509, 4557, 4897, 5176, 5733, 5903, 6012, 6133, 6303, 6788, 6861, 7091, 7564, 8897, 8970, 9091, 9333, 9382, 9854]
s6222 = [73, 145, 594, 1430, 1515, 1842, 1879, 3127, 3285, 3358, 3806, 4994, 4982, 6048, 6691, 6909, 7152, 8436, 9115]
s6221 = [279, 1745, 2012, 2145, 3406, 3539, 4363, 6000, 6230, 6267, 7564, 7673, 7697, 8036, 8582, 9527, 9588]
s6220 = [812, 2109, 2885, 4327, 6461, 7370, 8982]
s6219 = [327, 1709, 1818, 1915, 1976, 3588, 3794, 4303, 6497, 7491, 7806, 8121]
s6218 = [4206]
s6217 = [8279, 9163]
s6216 = [8618, 9224]
s6205 = [9288]

levels = [6274, 6271, 6269, 6268, 6267, 6266, 6265, 6264, 6263, 6262, 6261, 6260, 6259, 6258, 6257, 6256, 6255,
          6254, 6253, 6252, 6251, 6250, 6249, 6248, 6247, 6246, 6245, 6244, 6243, 6242, 6241, 6240, 6239, 6238,
          6237, 6236, 6235, 6234, 6233, 6232, 6231, 6230, 6229, 6228, 6227, 6226, 6225, 6224, 6223, 6222, 6221,
          6220, 6219, 6218, 6217, 6216, 6205]
rows = [s6274, s6271, s6269, s6268, s6267, s6266, s6265, s6264, s6263, s6262, s6261, s6260, s6259, s6258, s6257, s6256, s6255,
        s6254, s6253, s6252, s6251, s6250, s6249, s6248, s6247, s6246, s6245, s6244, s6243, s6242, s6241, s6240, s6239, s6238,
        s6237, s6236, s6235, s6234, s6233, s6232, s6231, s6230, s6229, s6228, s6227, s6226, s6225, s6224, s6223, s6222, s6221,
        s6220, s6219, s6218, s6217, s6216, s6205]

xs = []
ys = []
for level, row in zip(levels, rows):
    xs.extend(row)
    ys.extend([level] * len(row))

fig, ax = plt.subplots(figsize=(10, 10))
ax.plot(xs, ys, 'k.', label='Samples\n$\\mu$ = 6242.45, $\\sigma$ = 8.14')
ax.set_title('Run 657, channel045, Pedestal')
ax.set_xlabel('Sample #')
ax.set_ylabel('ADC Counts')
ax.grid()
ax.legend(loc='upper right')
fig.subplots_adjust(left=0.081, right=0.985, top=0.965, bottom=0.059)
plt.savefig('out.png', dpi=100)
